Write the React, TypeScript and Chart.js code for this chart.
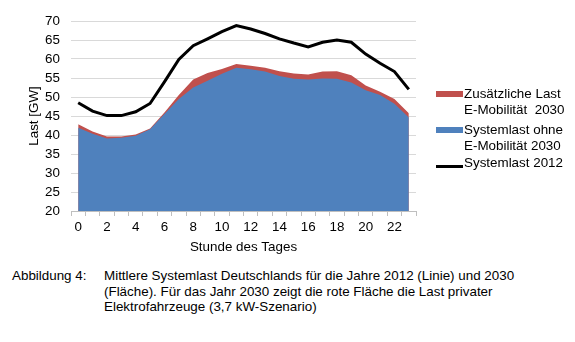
import React, { useEffect, useRef } from "react";
import { Chart, registerables } from "chart.js";

Chart.register(...registerables);

const hours: string[] = Array.from({ length: 24 }, (_, i) => String(i));
const systemlast2012: number[] = [48.5, 46.3, 45.1, 45.1, 46.1, 48.3, 54.0, 59.9, 63.5, 65.3, 67.2, 68.8, 67.9, 66.7, 65.3, 64.2, 63.2, 64.4, 65.0, 64.4, 61.3, 58.9, 56.7, 52.0];
const ohneEMob2030: number[] = [41.9, 40.3, 39.1, 39.3, 39.8, 41.5, 45.5, 49.5, 52.5, 54.3, 56.1, 57.7, 57.3, 56.7, 55.5, 54.8, 54.6, 54.9, 54.8, 53.8, 51.8, 50.5, 48.2, 44.6];
const mitEMob2030: number[] = [42.8, 40.9, 39.6, 39.6, 40.1, 41.7, 45.9, 50.5, 54.6, 56.3, 57.4, 58.7, 58.2, 57.7, 56.8, 56.2, 55.9, 56.7, 56.8, 55.7, 53.0, 51.4, 49.5, 45.7];

const FONT = '"Liberation Sans", Arial, sans-serif';
const FS = 13.4;
const RED = "#C0504D";
const BLUE = "#4F81BD";

export default function App() {
  const ref = useRef<HTMLCanvasElement | null>(null);

  useEffect(() => {
    document.body.style.margin = "0";
    if (!ref.current) return;
    const chart = new Chart(ref.current, {
      type: "line",
      data: {
        labels: hours,
        datasets: [
          {
            label: "Systemlast 2012",
            data: systemlast2012,
            borderColor: "#000000",
            borderWidth: 3,
            pointRadius: 0,
            fill: false,
            tension: 0,
          },
          {
            label: "Systemlast ohne E-Mobilität 2030",
            data: ohneEMob2030,
            borderColor: BLUE,
            borderWidth: 0,
            backgroundColor: BLUE,
            pointRadius: 0,
            fill: "start",
            tension: 0,
          },
          {
            label: "Zusätzliche Last E-Mobilität 2030",
            data: mitEMob2030,
            borderColor: RED,
            borderWidth: 0,
            backgroundColor: RED,
            pointRadius: 0,
            fill: "start",
            tension: 0,
          },
        ],
      },
      options: {
        responsive: false,
        animation: false,
        devicePixelRatio: 1,
        layout: { padding: { top: 21, right: 159, left: 0, bottom: 0 } },
        plugins: { legend: { display: false }, tooltip: { enabled: false } },
        scales: {
          x: {
            type: "category",
            offset: true,
            grid: {
              offset: true,
              drawOnChartArea: false,
              drawTicks: true,
              tickLength: 5,
              color: "#bfbfbf",
            },
            border: { display: true, color: "#bfbfbf", width: 1 },
            ticks: {
              autoSkip: false,
              maxRotation: 0,
              padding: 3,
              color: "#000000",
              font: { family: FONT, size: FS },
              callback: (_v: any, i: number) => (i % 2 === 0 ? hours[i] : ""),
            },
            title: {
              display: true,
              text: "Stunde des Tages",
              color: "#000000",
              font: { family: FONT, size: FS },
              padding: { top: 0, bottom: 5 },
            },
            afterFit: (s: any) => {
              s.height = 49;
            },
          },
          y: {
            min: 20,
            max: 70,
            ticks: {
              stepSize: 5,
              autoSkip: false,
              padding: 11,
              color: "#000000",
              font: { family: FONT, size: FS },
            },
            grid: { color: "#d9d9d9", drawTicks: false },
            border: { display: false },
            title: {
              display: true,
              text: "Last [GW]",
              color: "#000000",
              font: { family: FONT, size: FS },
              padding: { top: 26, bottom: 0 },
            },
            afterFit: (s: any) => {
              s.width = 71;
            },
          },
        },
      },
    });
    return () => chart.destroy();
  }, []);

  const textStyle: React.CSSProperties = {
    position: "absolute",
    fontFamily: FONT,
    fontSize: FS,
    color: "#000",
    lineHeight: "16px",
    whiteSpace: "pre",
  };

  return (
    <div style={{ position: "relative", width: 575, height: 342, background: "#fff", overflow: "hidden" }}>
      <canvas ref={ref} width={575} height={260} style={{ position: "absolute", left: 0, top: 0 }} />
      {/* legend */}
      <div style={{ position: "absolute", left: 436, top: 91, width: 27, height: 6, background: RED }} />
      <div style={{ ...textStyle, left: 464, top: 86 }}>{"Zusätzliche Last\nE-Mobilität  2030"}</div>
      <div style={{ position: "absolute", left: 436, top: 127, width: 27, height: 6, background: BLUE }} />
      <div style={{ ...textStyle, left: 464, top: 122 }}>{"Systemlast ohne\nE-Mobilität 2030"}</div>
      <div style={{ position: "absolute", left: 436, top: 165, width: 27, height: 3, background: "#000" }} />
      <div style={{ ...textStyle, left: 464, top: 155 }}>{"Systemlast 2012"}</div>
      {/* caption */}
      <div style={{ ...textStyle, left: 12, top: 268, lineHeight: "15.5px" }}>{"Abbildung 4:"}</div>
      <div style={{ ...textStyle, left: 104, top: 268, lineHeight: "15.5px" }}>
        {"Mittlere Systemlast Deutschlands für die Jahre 2012 (Linie) und 2030\n(Fläche). Für das Jahr 2030 zeigt die rote Fläche die Last privater\nElektrofahrzeuge (3,7 kW-Szenario)"}
      </div>
    </div>
  );
}
